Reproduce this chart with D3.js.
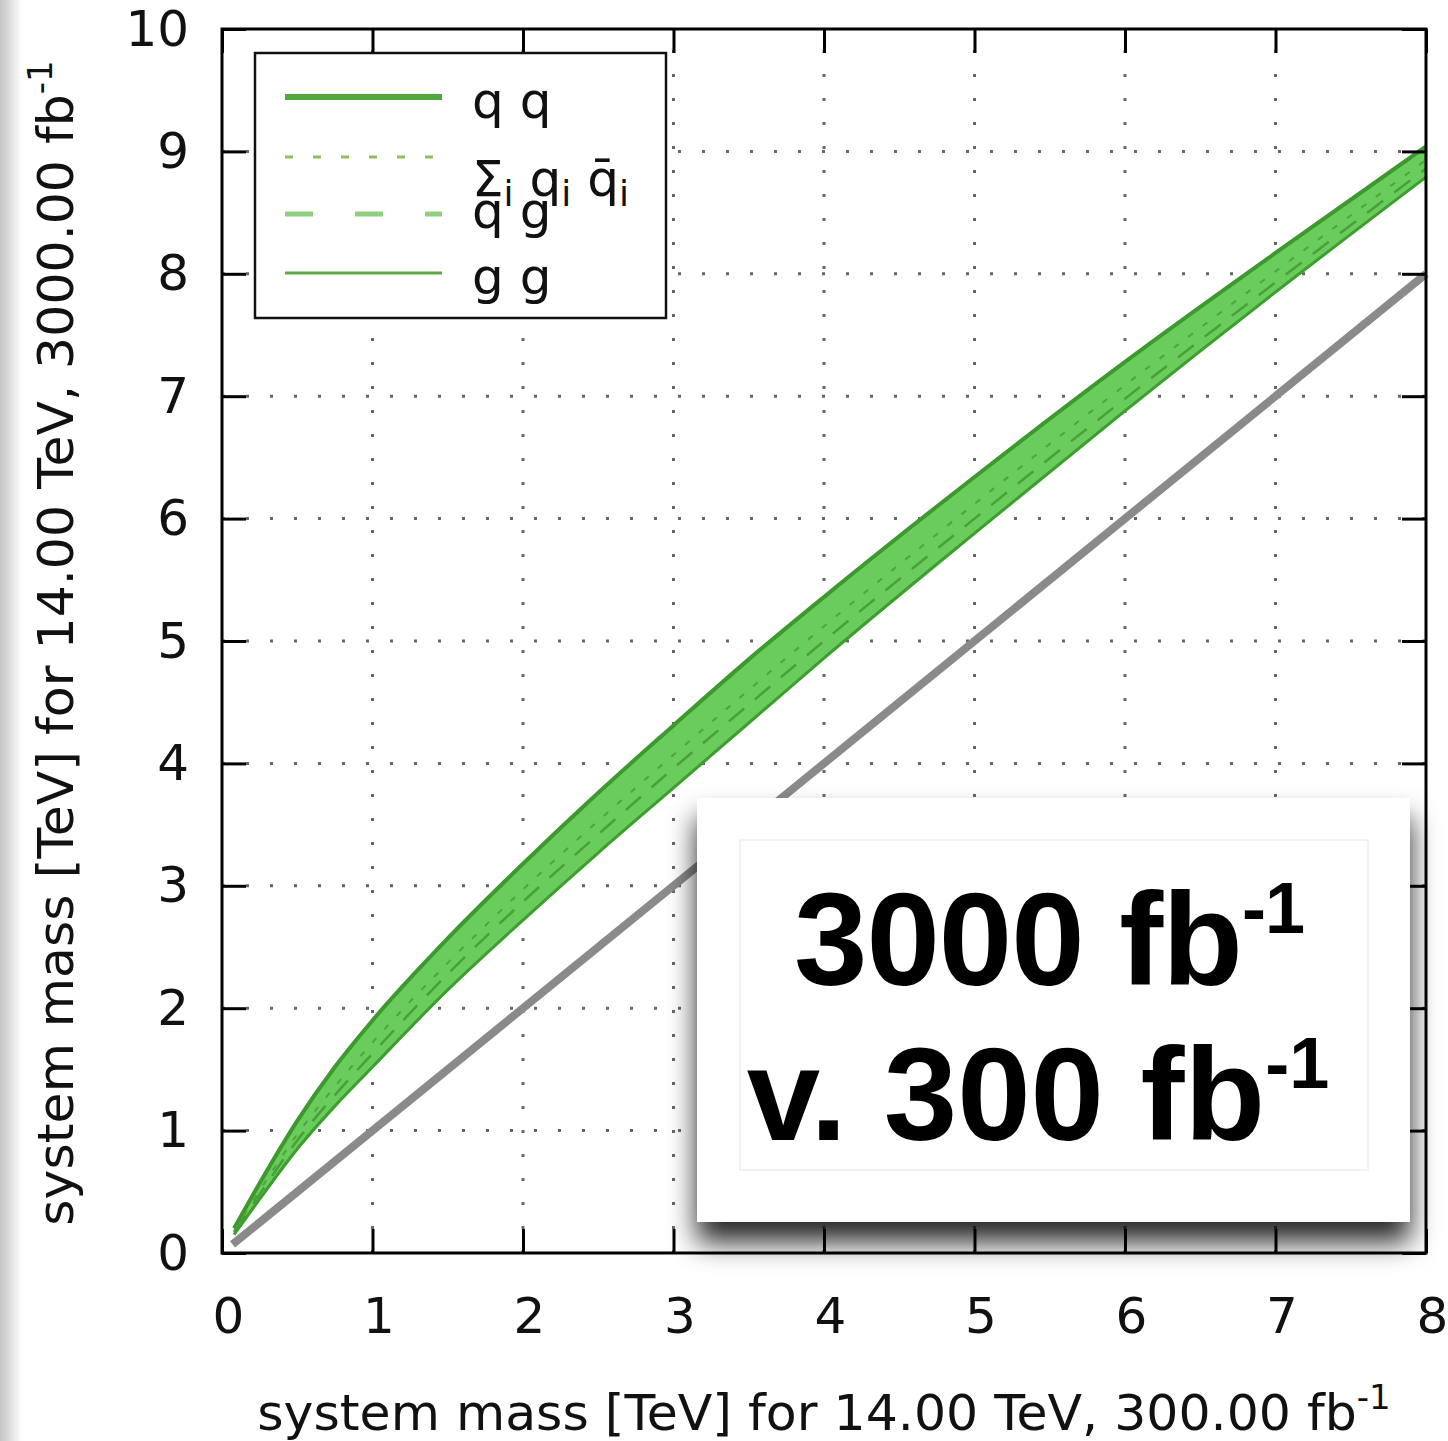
<!DOCTYPE html>
<html>
<head>
<meta charset="utf-8">
<script src="https://cdn.jsdelivr.net/npm/d3@7"></script>
<style>
  html, body { margin: 0; padding: 0; background: #fff; }
  svg { display: block; }
  text { font-family: "DejaVu Sans", Verdana, sans-serif; fill: #111; }
  .big { font-family: "Liberation Sans", Arial, Helvetica, sans-serif; font-weight: bold; fill: #000; }
</style>
</head>
<body>
<div id="container"></div>
<script>
"use strict";

// x positions (TeV, 300 fb-1) where the curves were read
var massX = [0.08, 0.25, 0.5, 0.75, 1, 1.5, 2, 2.5, 3, 3.5, 4, 5, 6, 7, 8];
// y values (TeV, 3000 fb-1) per channel
var qq = [0.2, 0.57, 1.08, 1.52, 1.9, 2.57, 3.18, 3.76, 4.31, 4.85, 5.36, 6.34, 7.28, 8.17, 9.04];
var qqbar = [0.18, 0.51, 0.97, 1.36, 1.72, 2.37, 2.97, 3.53, 4.07, 4.6, 5.12, 6.12, 7.09, 8.02, 8.93];
var qg = [0.17, 0.48, 0.92, 1.29, 1.63, 2.28, 2.87, 3.42, 3.96, 4.48, 5.0, 6.0, 6.98, 7.93, 8.86];
var gg = [0.15, 0.44, 0.85, 1.2, 1.52, 2.15, 2.72, 3.27, 3.8, 4.33, 4.86, 5.88, 6.88, 7.85, 8.79];
// reference diagonal y = x
var diagX = [0.07, 8];

var xTicks = [0, 1, 2, 3, 4, 5, 6, 7, 8];
var yTicks = [0, 1, 2, 3, 4, 5, 6, 7, 8, 9, 10];

var legendLabels = ["q q", "qqbar", "q g", "g g"];

var width = 1448, height = 1441;
var pLeft = 222, pRight = 1426, pTop = 29, pBottom = 1253;

var svg = d3.select("#container").append("svg")
    .attr("width", width).attr("height", height);

var defs = svg.append("defs");
var grad = defs.append("linearGradient").attr("id", "edge").attr("x1", "0").attr("x2", "1");
grad.append("stop").attr("offset", "0").attr("stop-color", "#c4c4c4");
grad.append("stop").attr("offset", "1").attr("stop-color", "#fff");
var filt = defs.append("filter").attr("id", "shadow")
    .attr("x", "-10%").attr("y", "-10%").attr("width", "125%").attr("height", "140%");
filt.append("feDropShadow").attr("dx", 0).attr("dy", 20).attr("stdDeviation", 14)
    .attr("flood-color", "#000").attr("flood-opacity", 0.85);

svg.append("rect").attr("x", 0).attr("y", 0).attr("width", 22).attr("height", height)
    .attr("fill", "url(#edge)");

var x = d3.scaleLinear().domain([0, 8]).range([pLeft, pRight]);
var y = d3.scaleLinear().domain([0, 10]).range([pBottom, pTop]);

// dotted grid
var grid = svg.append("g").attr("class", "grid");
grid.selectAll("line.gx").data(xTicks.slice(1, -1)).enter().append("line").attr("class", "gx")
    .attr("x1", function (d) { return x(d); }).attr("x2", function (d) { return x(d); })
    .attr("y1", pBottom).attr("y2", pTop);
grid.selectAll("line.gy").data(yTicks.slice(1, -1)).enter().append("line").attr("class", "gy")
    .attr("y1", function (d) { return y(d); }).attr("y2", function (d) { return y(d); })
    .attr("x1", pLeft).attr("x2", pRight);
grid.selectAll("line").attr("stroke", "#666").attr("stroke-width", 3)
    .attr("stroke-dasharray", "3,21").attr("stroke-linecap", "butt");

// diagonal reference line
svg.append("path")
    .attr("d", d3.line().x(function (d) { return x(d); }).y(function (d) { return y(d); })(diagX))
    .attr("stroke", "#8a8a8a").attr("stroke-width", 8).attr("fill", "none");

// band between highest and lowest channel
var band = d3.area().curve(d3.curveMonotoneX)
    .x(function (d, i) { return x(massX[i]); })
    .y0(function (d, i) { return y(gg[i]); })
    .y1(function (d, i) { return y(qq[i]); });
svg.append("path").attr("d", band(massX)).attr("fill", "#69cc5c");

function curve(vals) {
    return d3.line().curve(d3.curveMonotoneX)
        .x(function (d, i) { return x(massX[i]); })
        .y(function (d) { return y(d); })(vals);
}
var series = [
    { vals: qq, color: "#3c9a2c", w: 4, dash: null },
    { vals: qqbar, color: "#4fa43c", w: 2, dash: "6,12" },
    { vals: qg, color: "#4a9f3a", w: 2.5, dash: "20,14" },
    { vals: gg, color: "#3f9c30", w: 3, dash: null }
];
series.forEach(function (s) {
    svg.append("path").attr("d", curve(s.vals)).attr("fill", "none")
        .attr("stroke", s.color).attr("stroke-width", s.w)
        .attr("stroke-dasharray", s.dash);
});

// axes (ticks pointing inwards on all sides)
var fmt = d3.format("d");
var xb = svg.append("g").attr("transform", "translate(0," + pBottom + ")")
    .call(d3.axisBottom(x).tickValues(xTicks).tickFormat(fmt).tickSizeInner(-24).tickSizeOuter(0).tickPadding(44));
var yl = svg.append("g").attr("transform", "translate(" + pLeft + ",0)")
    .call(d3.axisLeft(y).tickValues(yTicks).tickFormat(fmt).tickSizeInner(-24).tickSizeOuter(0).tickPadding(33));
var xt = svg.append("g").attr("transform", "translate(0," + pTop + ")")
    .call(d3.axisTop(x).tickValues(xTicks).tickFormat("").tickSizeInner(-24).tickSizeOuter(0));
var yr = svg.append("g").attr("transform", "translate(" + pRight + ",0)")
    .call(d3.axisRight(y).tickValues(yTicks).tickFormat("").tickSizeInner(-24).tickSizeOuter(0));
[xb, yl, xt, yr].forEach(function (a) {
    a.select(".domain").remove();
    a.selectAll(".tick line").attr("stroke", "#000").attr("stroke-width", 3);
    a.selectAll("text").attr("font-family", "DejaVu Sans").attr("font-size", 50).attr("fill", "#111");
});
xb.selectAll("text").attr("dx", 6);
svg.append("rect").attr("x", pLeft).attr("y", pTop).attr("width", pRight - pLeft).attr("height", pBottom - pTop)
    .attr("fill", "none").attr("stroke", "#000").attr("stroke-width", 3);

// axis titles
var xTitle = svg.append("text").attr("x", (pLeft + pRight) / 2).attr("y", 1430)
    .attr("text-anchor", "middle").attr("font-size", 50.5);
xTitle.append("tspan").text("system mass [TeV] for 14.00 TeV, 300.00 fb");
xTitle.append("tspan").attr("dy", -21).attr("font-size", 34).text("-1");

var yTitle = svg.append("text").attr("transform", "translate(73," + ((pTop + pBottom) / 2 + 2) + ") rotate(-90)")
    .attr("text-anchor", "middle").attr("font-size", 50.5);
yTitle.append("tspan").text("system mass [TeV] for 14.00 TeV, 3000.00 fb");
yTitle.append("tspan").attr("dy", -21).attr("font-size", 34).text("-1");

// legend
var lg = svg.append("g");
lg.append("rect").attr("x", 255).attr("y", 53).attr("width", 411).attr("height", 265)
    .attr("fill", "#fff").attr("stroke", "#111").attr("stroke-width", 2.5);
var legendY = [97, 157, 214, 273];
var legendStyle = [
    { color: "#4ea83d", w: 6, dash: null },
    { color: "#8cbf5c", w: 3, dash: "8,20" },
    { color: "#8fcf80", w: 5, dash: "28,42" },
    { color: "#5aab48", w: 3, dash: null }
];
legendStyle.forEach(function (s, i) {
    lg.append("line").attr("x1", 285).attr("x2", 442)
        .attr("y1", legendY[i]).attr("y2", legendY[i])
        .attr("stroke", s.color).attr("stroke-width", s.w).attr("stroke-dasharray", s.dash);
});
lg.append("text").attr("x", 472).attr("y", 118).attr("font-size", 50).text(legendLabels[0]);
lg.append("text").attr("x", 472).attr("y", 228).attr("font-size", 50).text(legendLabels[2]);
lg.append("text").attr("x", 472).attr("y", 294).attr("font-size", 50).text(legendLabels[3]);
var sig = lg.append("text").attr("x", 472).attr("y", 196).attr("font-size", 50);
sig.append("tspan").text("\u03A3");
sig.append("tspan").attr("dy", 10).attr("font-size", 36).text("i");
sig.append("tspan").attr("dy", -10).text(" q");
sig.append("tspan").attr("dy", 10).attr("font-size", 36).text("i");
sig.append("tspan").attr("dy", -10).text(" q\u0304");
sig.append("tspan").attr("dy", 10).attr("font-size", 36).text("i");

// annotation box
var note = svg.append("g");
note.append("rect").attr("x", 697).attr("y", 798).attr("width", 713).attr("height", 424)
    .attr("fill", "#fff").attr("filter", "url(#shadow)");
note.append("rect").attr("x", 740).attr("y", 840).attr("width", 628).attr("height", 330)
    .attr("fill", "none").attr("stroke", "#f2f2f2").attr("stroke-width", 2);
var l1 = note.append("text").attr("class", "big").attr("x", 1049).attr("y", 985)
    .attr("text-anchor", "middle").attr("font-size", 132).attr("letter-spacing", -1);
l1.append("tspan").text("3000 fb");
l1.append("tspan").attr("dy", -52).attr("font-size", 72).text("-1");
var l2 = note.append("text").attr("class", "big").attr("x", 1038).attr("y", 1140)
    .attr("text-anchor", "middle").attr("font-size", 132).attr("letter-spacing", 0);
l2.append("tspan").text("v. 300 fb");
l2.append("tspan").attr("dy", -52).attr("font-size", 72).text("-1");
</script>
</body>
</html>
